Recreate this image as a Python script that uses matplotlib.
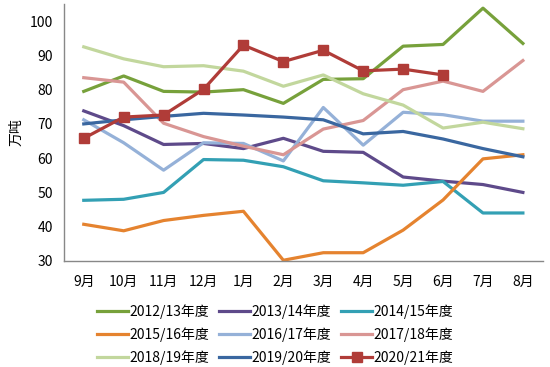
import matplotlib
matplotlib.use("Agg")
import matplotlib.pyplot as plt

plt.rcParams['font.family'] = ['Noto Sans CJK SC', 'DejaVu Sans']

months = ["9月", "10月", "11月", "12月", "1月", "2月", "3月", "4月", "5月", "6月", "7月", "8月"]
labels = ["2012/13年度", "2013/14年度", "2014/15年度",
          "2015/16年度", "2016/17年度", "2017/18年度",
          "2018/19年度", "2019/20年度", "2020/21年度"]

s2012 = [79.5, 84, 79.5, 79.3, 80, 76, 83, 83.2, 92.7, 93.2, 103.8, 93.5]
s2013 = [73.8, 69.5, 64, 64.3, 62.8, 65.8, 62, 61.7, 54.5, 53.3, 52.3, 50]
s2014 = [47.7, 48, 50, 59.6, 59.4, 57.5, 53.4, 52.8, 52.1, 53.2, 44, 44]
s2015 = [40.7, 38.8, 41.8, 43.3, 44.5, 30.2, 32.4, 32.4, 39, 47.8, 59.8, 61]
s2016 = [71.2, 64.5, 56.5, 64.5, 64.3, 59.2, 74.8, 63.8, 73.4, 72.7, 70.8, 70.8]
s2017 = [83.5, 82.2, 70.2, 66.3, 63.5, 61, 68.5, 71, 80, 82.5, 79.5, 88.5]
s2018 = [92.5, 89, 86.7, 87, 85.4, 81, 84.3, 78.8, 75.5, 68.8, 70.5, 68.6]
s2019 = [70, 71.2, 72.2, 73.1, 72.6, 72, 71.2, 67.1, 67.8, 65.6, 62.8, 60.4]
s2020 = [65.8, 72, 72.6, 80.1, 93, 88.2, 91.5, 85.5, 86, 84.3]

series = [s2012, s2013, s2014, s2015, s2016, s2017, s2018, s2019, s2020]
colors = ["#77A13B", "#5E4A8A", "#33A0B4", "#E5832F", "#95B1D8",
          "#D99694", "#C2D79D", "#3A67A0", "#B03C38"]

fig = plt.figure(figsize=(5.5, 3.67), dpi=100)
ax = fig.add_axes([0.116, 0.289, 0.871, 0.70])

handles = []
for vals, lab, col in zip(series, labels, colors):
    x = list(range(len(vals)))
    if lab == "2020/21年度":
        h, = ax.plot(x, vals, color=col, lw=2.3, marker='s', markersize=6.5, label=lab, zorder=5)
    else:
        h, = ax.plot(x, vals, color=col, lw=2.3, label=lab)
    handles.append(h)

ax.set_xlim(-0.5, 11.5)
ax.set_ylim(30, 105)
ax.set_yticks(range(30, 101, 10))
ax.set_xticks(range(12))
ax.set_xticklabels(months)
ax.tick_params(axis='both', length=0, labelsize=10)
ax.tick_params(axis='x', pad=10)
ax.tick_params(axis='y', pad=8)
for s in ['top', 'right']:
    ax.spines[s].set_visible(False)
for s in ['left', 'bottom']:
    ax.spines[s].set_color('#888888')
    ax.spines[s].set_linewidth(1.0)
ax.set_ylabel("万吨", fontsize=10, labelpad=4)

order = [0, 3, 6, 1, 4, 7, 2, 5, 8]
fig.legend([handles[i] for i in order], [labels[i] for i in order],
           loc='upper center', bbox_to_anchor=(0.5, 0.186), ncol=3, frameon=False,
           fontsize=10, handlelength=2.2, handletextpad=0.1, columnspacing=0.75,
           labelspacing=0.58, borderaxespad=0)

fig.savefig("out.png", dpi=100)
